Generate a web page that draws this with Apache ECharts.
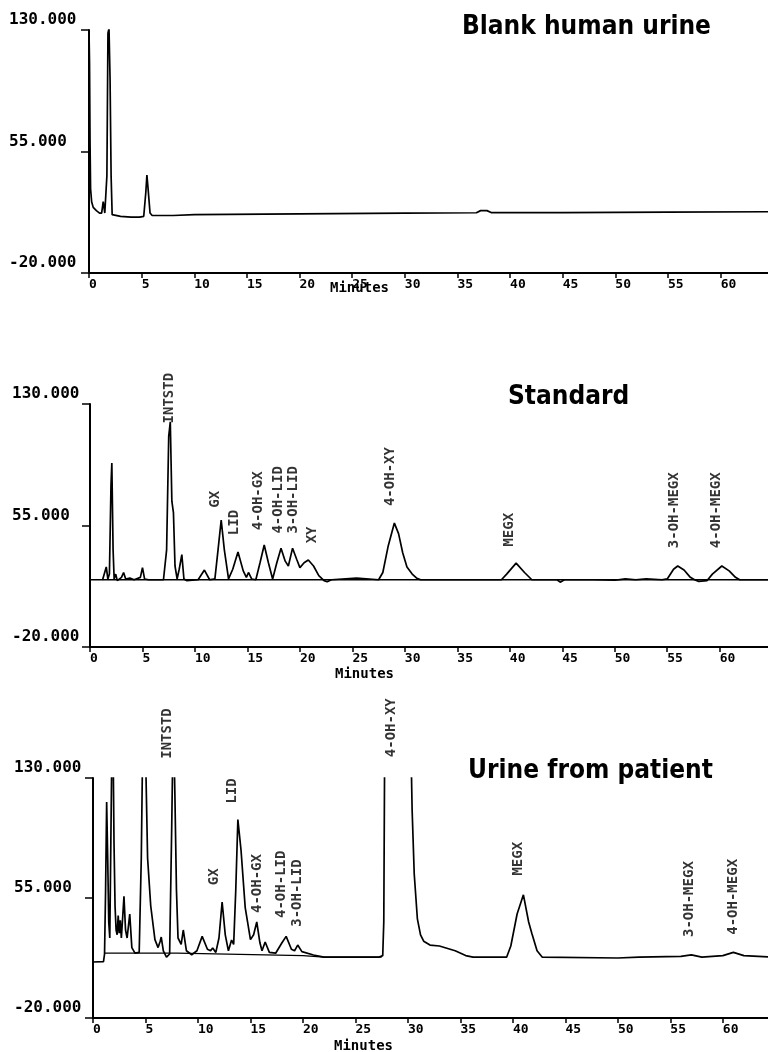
<!DOCTYPE html>
<html><head><meta charset="utf-8">
<style>html,body{margin:0;padding:0;background:#fff}#c{width:768px;height:1052px}</style>
<script src="https://cdn.jsdelivr.net/npm/echarts@6.0.0/dist/echarts.min.js"></script>
</head><body><div id="c"></div>
<script>
// ---- tick labels ----
const xTicks = [0, 5, 10, 15, 20, 25, 30, 35, 40, 45, 50, 55, 60];
const yTicks = [-20, 55, 130];
const panelTitles = ['Blank human urine', 'Standard', 'Urine from patient'];
const xAxisName = 'Minutes';

// ---- traces [minutes, signal] ----
const blankTrace = [[0,130],[0.05,110],[0.1,60],[0.15,32],[0.25,24],[0.4,20.5],[0.7,18.5],[1.0,17],[1.2,17],[1.35,24],[1.5,17],[1.6,16],[1.7,40],[1.8,128],[1.9,131],[2.0,100],[2.1,40],[2.2,16],[2.3,15],[3,15],[4,14.5],[4.8,14.5],[5.2,15],[5.4,30],[5.5,40.5],[5.6,33],[5.8,17],[6,15.5],[8,15.5],[10,16],[20,16.5],[30,17],[36.8,17.2],[37.2,18.5],[37.8,18.5],[38.2,17.3],[45,17.3],[55,17.6],[64.5,17.8]];

const standardTrace = [[0,21.5],[1.2,21.5],[1.4,26],[1.55,29.4],[1.7,22],[1.85,25],[2.0,80],[2.08,93.5],[2.2,40],[2.3,22],[2.45,25],[2.6,21],[3.0,23],[3.2,26],[3.4,22],[3.8,22.5],[4.2,21.5],[4.8,23],[5.0,29],[5.2,22],[5.6,21.5],[7.0,21.5],[7.3,40],[7.5,110],[7.65,119],[7.8,70],[7.95,63],[8.1,30],[8.3,22],[8.5,28],[8.75,37],[8.95,22],[9.2,21],[10.3,21.5],[10.9,27.5],[11.4,21.5],[11.9,22],[12.2,40],[12.5,58.4],[12.8,40],[13.2,22],[13.6,28],[14.1,38.6],[14.6,27],[14.9,23],[15.1,26],[15.4,22],[15.8,21.5],[16.2,32],[16.6,43],[17.0,32],[17.4,22],[17.8,32],[18.2,41],[18.6,33],[18.9,30],[19.3,41],[19.7,34],[20.0,29],[20.4,32],[20.8,33.7],[21.3,30],[21.8,24],[22.3,21],[22.6,20.3],[23.0,21.5],[23.1,22.6],[25.4,22.6],[25.5,21.5],[27.5,21.5],[27.9,26],[28.4,42],[29.0,56.5],[29.4,50],[29.8,38],[30.2,29.4],[30.7,25],[31.1,22.6],[31.5,21.5],[39.2,21.5],[39.7,25],[40.6,31.8],[41.4,26],[42.1,21.5],[44.5,21.5],[44.8,20],[45.2,21.5],[48,21.5],[50,21.2],[51,22],[52,21.5],[53,22],[54.5,21.5],[55.0,22],[55.6,28],[56.0,30],[56.6,27.5],[57.2,23],[57.6,21.5],[58.0,20.5],[58.8,21],[59.3,25],[60.2,30],[60.9,27],[61.5,23],[61.9,21.5],[64.6,21.5]];
const standardBaseline = [[1.2,21.5],[64.6,21.5]];

const patientTrace = [[0,15],[1.0,15.2],[1.1,20],[1.2,60],[1.3,115],[1.4,80],[1.5,40],[1.6,30],[1.7,90],[1.8,150],[1.9,160],[2.0,90],[2.1,50],[2.2,35],[2.3,32],[2.4,44],[2.5,33],[2.6,41],[2.7,30],[2.8,40],[2.95,56],[3.1,35],[3.25,30],[3.5,45],[3.7,24],[4.0,20.5],[4.4,21],[4.6,80],[4.75,160],[4.95,165],[5.2,80],[5.5,50],[5.9,29],[6.2,24],[6.4,28],[6.5,30.6],[6.7,22],[7.0,18],[7.3,20],[7.5,100],[7.65,170],[7.8,120],[7.95,60],[8.1,30],[8.4,26],[8.6,35],[8.9,22],[9.4,19.5],[9.9,22],[10.4,31],[10.9,23],[11.2,22],[11.4,23.8],[11.7,21],[12.0,30],[12.3,52.5],[12.6,32],[12.9,22],[13.2,28.7],[13.4,26],[13.6,60],[13.8,104],[14.1,85],[14.5,49],[15.0,29],[15.3,32],[15.6,40],[15.9,27],[16.1,22],[16.4,27.5],[16.8,21],[17.4,20.5],[18.0,27],[18.4,31],[18.9,23],[19.2,22],[19.5,25.6],[19.9,21.5],[21,19.4],[22,18],[27.2,18],[27.6,19],[27.7,40],[27.9,300],[29.2,420],[30.2,180],[30.4,110],[30.6,70],[30.9,42],[31.2,32],[31.5,28],[32.1,25.6],[33,25],[34.5,22],[35.5,19],[36.2,18],[39.4,18],[39.8,25],[40.4,45],[41.0,57],[41.5,40],[41.8,33],[42.3,22],[42.8,18],[50,17.5],[52,18],[56,18.5],[57,19.5],[58,18],[60,19],[61,21],[62,19],[64.3,18.2]];
const patientBaseline = [[1.1,20.5],[8,20.5],[20,19],[22,18],[27.5,18]];

// ---- peak annotations [minutes, value at label foot, text] ----
const standardPeakLabels = [[7.6,118,'INTSTD'],[11.9,66,'GX'],[13.8,49,'LID'],[16.0,52,'4-OH-GX'],[17.9,50,'4-OH-LID'],[19.4,50,'3-OH-LID'],[21.2,44,'XY'],[28.6,67,'4-OH-XY'],[40.0,42,'MEGX'],[55.7,41,'3-OH-MEGX'],[59.7,41,'4-OH-MEGX']];
const patientPeakLabels = [[7.1,142,'INTSTD'],[11.6,63,'GX'],[13.3,114,'LID'],[15.7,45.6,'4-OH-GX'],[17.9,42.5,'4-OH-LID'],[19.5,37,'3-OH-LID'],[28.4,143,'4-OH-XY'],[40.5,69,'MEGX'],[56.8,30.6,'3-OH-MEGX'],[61.0,32,'4-OH-MEGX']];

// ---- layout ----
const grids = [
  {left: 89, top: 30, width: 679, height: 243},
  {left: 90, top: 404, width: 678, height: 243},
  {left: 93, top: 778, width: 675, height: 240}
];
const xMax = [64.5, 64.6, 64.3];
const yLabelLeft = [9, 12, 14];
const titlePos = [[462, 14], [508, 384], [468, 758]];
const minutesPos = [[330, 281], [335, 667], [334, 1039]];

const mono = 'DejaVu Sans Mono';
const titleFont = "'DejaVu Sans Condensed', 'DejaVu Sans'";

const xAxes = grids.map((g, i) => ({
  type: 'value', gridIndex: i, min: 0, max: xMax[i], interval: 5,
  axisLine: {onZero: false, lineStyle: {color: '#000', width: 2}},
  axisTick: {show: true, length: 5, customValues: xTicks, lineStyle: {color: '#000', width: 1.5}},
  axisLabel: {customValues: xTicks, align: 'left', margin: 5, color: '#000', fontFamily: mono, fontWeight: 'bold', fontSize: 13},
  splitLine: {show: false}
}));
const yAxes = grids.map((g, i) => ({
  type: 'value', gridIndex: i, min: -20, max: 130, interval: 75,
  axisLine: {show: true, onZero: false, lineStyle: {color: '#000', width: 2}},
  axisTick: {show: true, length: 8, customValues: yTicks, lineStyle: {color: '#000', width: 1.5}},
  axisLabel: {customValues: yTicks, formatter: v => Number(v).toFixed(3), align: 'left', verticalAlign: 'bottom',
    padding: [0, 0, 2, 0], margin: g.left - yLabelLeft[i], color: '#000', fontFamily: mono, fontWeight: 'bold', fontSize: 16},
  splitLine: {show: false}
}));

function trace(data, idx, w) {
  return {type: 'line', xAxisIndex: idx, yAxisIndex: idx, data: data, symbol: 'none', showSymbol: false,
    lineStyle: {color: '#000', width: w}, clip: true, silent: true};
}
function peakLabels(list, idx) {
  return {type: 'scatter', xAxisIndex: idx, yAxisIndex: idx, symbol: 'circle', symbolSize: 1, clip: false,
    itemStyle: {color: 'rgba(0,0,0,0)'}, silent: true,
    data: list.map(d => ({value: [d[0], d[1]], name: d[2]})),
    label: {show: true, formatter: '{b}', rotate: 90, position: 'inside', offset: [0, 0], align: 'left', verticalAlign: 'middle',
      color: '#000', fontFamily: mono, fontWeight: 'bold', fontSize: 14}};
}

const titles = [];
panelTitles.forEach((t, i) => titles.push({text: t, left: titlePos[i][0], top: titlePos[i][1], padding: 0,
  textStyle: {fontFamily: titleFont, fontWeight: 'bold', fontSize: 26, color: '#000'}}));
minutesPos.forEach(p => titles.push({text: xAxisName, left: p[0], top: p[1], padding: 0,
  textStyle: {fontFamily: mono, fontWeight: 'bold', fontSize: 14, color: '#000'}}));

const chart = echarts.init(document.getElementById('c'), null, {renderer: 'canvas'});
chart.setOption({
  animation: false,
  backgroundColor: '#fff',
  title: titles,
  grid: grids,
  xAxis: xAxes,
  yAxis: yAxes,
  series: [
    trace(blankTrace, 0, 1.7),
    trace(standardBaseline, 1, 1.3),
    trace(standardTrace, 1, 1.7),
    peakLabels(standardPeakLabels, 1),
    trace(patientBaseline, 2, 1.3),
    trace(patientTrace, 2, 1.7),
    peakLabels(patientPeakLabels, 2)
  ]
});
</script></body></html>
